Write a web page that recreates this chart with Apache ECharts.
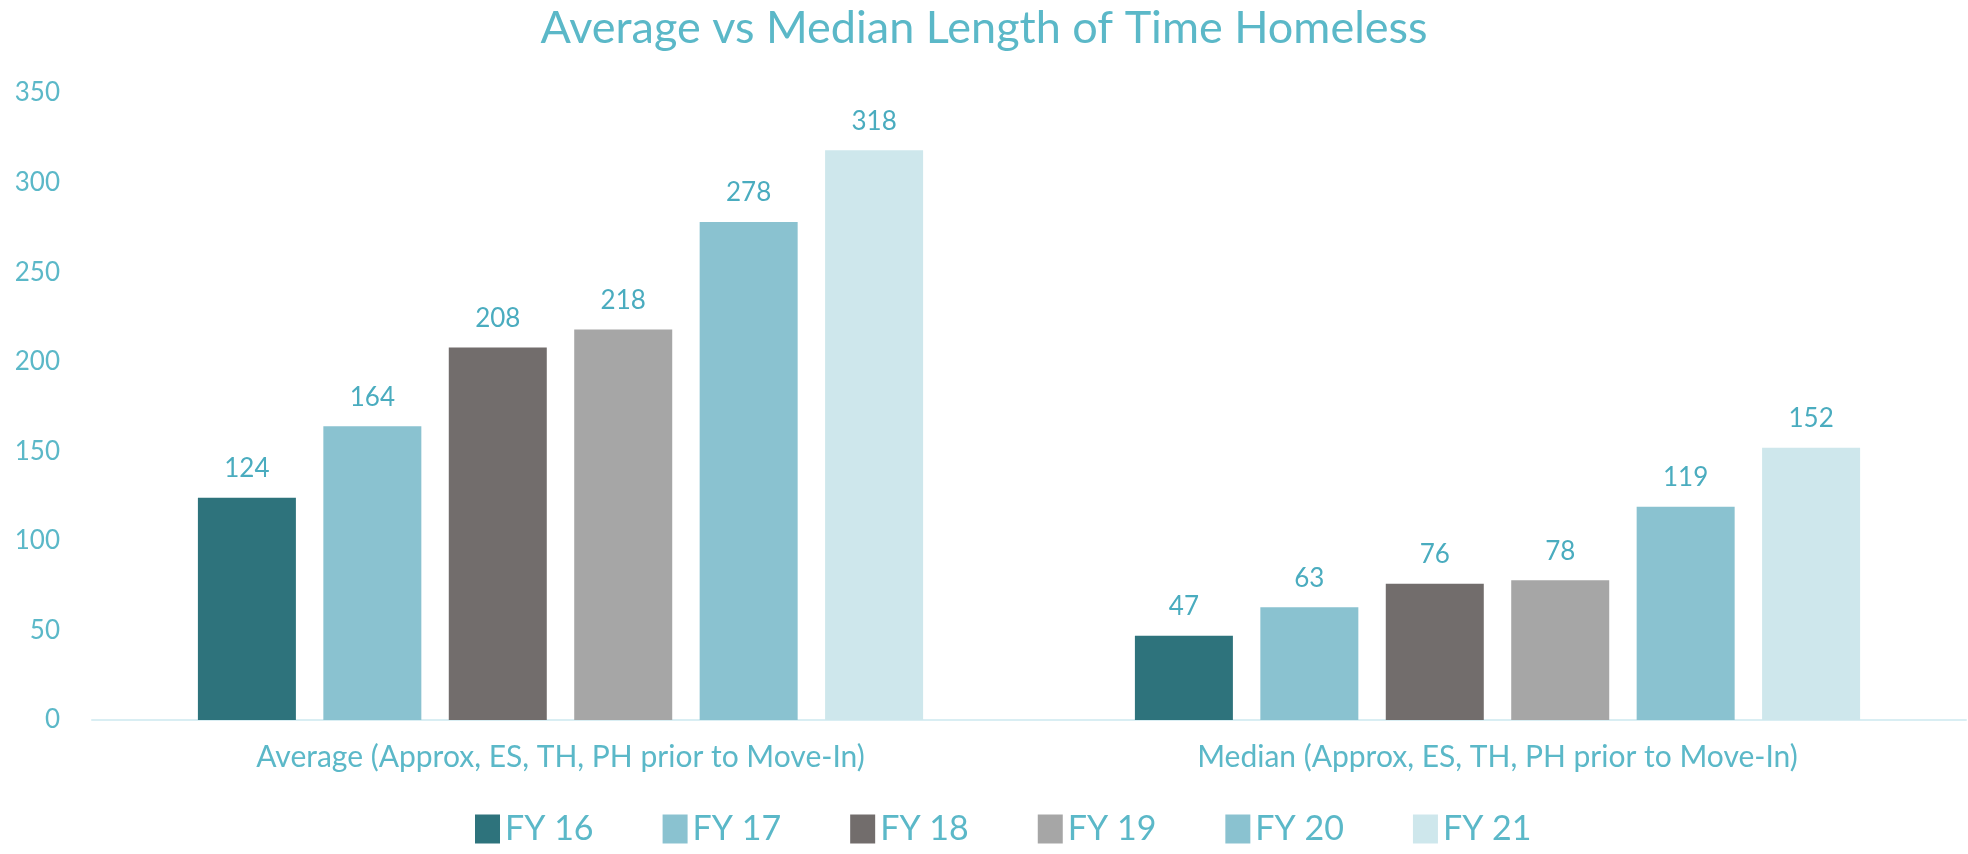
<!DOCTYPE html>
<html>
<head>
<meta charset="utf-8">
<title>Average vs Median Length of Time Homeless</title>
<script src="https://cdn.jsdelivr.net/npm/echarts@6/dist/echarts.min.js"></script>
<style>
  html, body { margin: 0; padding: 0; background: #fff; }
  #main { width: 1968px; height: 854px; }
</style>
</head>
<body>
<div id="main"></div>
<script>
// categories on the x axis
const categories = [
  'Average (Approx, ES, TH, PH prior to Move-In)',
  'Median (Approx, ES, TH, PH prior to Move-In)'
]
// one series per fiscal year
const seriesNames = ['FY 16', 'FY 17', 'FY 18', 'FY 19', 'FY 20', 'FY 21']
const fy16 = [124, 47]
const fy17 = [164, 63]
const fy18 = [208, 76]
const fy19 = [218, 78]
const fy20 = [278, 119]
const fy21 = [318, 152]
const yTicks = [0, 50, 100, 150, 200, 250, 300, 350]

const allValues = [fy16, fy17, fy18, fy19, fy20, fy21]
const colors = ['#2e737c', '#8ac2d0', '#726d6c', '#a6a6a6', '#8ac2d0', '#cee7ec']
const textColor = '#5bb8c8'
const font = 'Lato, "Open Sans", sans-serif'

const chart = echarts.init(document.getElementById('main'))

const option = {
  color: colors,
  animation: false,
  title: {
    text: 'Average vs Median Length of Time Homeless',
    left: 'center',
    top: 1,
    textStyle: { color: textColor, fontFamily: font, fontWeight: 'normal', fontSize: 45 }
  },
  legend: {
    data: seriesNames,
    bottom: 3,
    left: 470,
    itemWidth: 25,
    itemHeight: 29,
    itemGap: 69,
    icon: 'rect',
    textStyle: { color: textColor, fontFamily: font, fontSize: 34 }
  },
  grid: { left: 92, right: 2, top: 93, bottom: 134 },
  xAxis: {
    type: 'category',
    data: categories,
    axisLine: { lineStyle: { color: '#d9eef3', width: 2 } },
    axisTick: { show: false },
    axisLabel: { color: textColor, fontFamily: font, fontSize: 30, margin: 22 }
  },
  yAxis: {
    type: 'value',
    min: yTicks[0],
    max: yTicks[yTicks.length - 1],
    interval: 50,
    splitLine: { show: false },
    axisLine: { show: false },
    axisTick: { show: false },
    axisLabel: { color: textColor, fontFamily: font, fontSize: 26, margin: 32 }
  },
  series: seriesNames.map((name, i) => ({
    name: name,
    type: 'bar',
    data: allValues[i],
    barWidth: 98,
    barGap: '28%',
    label: {
      show: true,
      position: 'top',
      distance: 16,
      color: '#4aacbf',
      fontFamily: font,
      fontSize: 26
    }
  }))
}

chart.setOption(option)
</script>
</body>
</html>
